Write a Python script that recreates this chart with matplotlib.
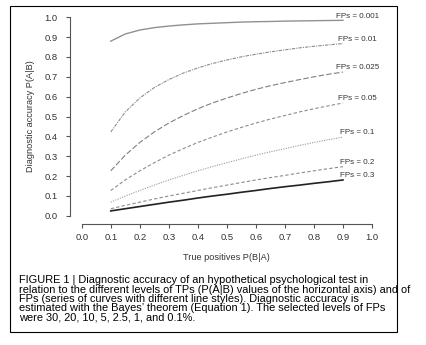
import matplotlib
matplotlib.use("Agg")
import matplotlib.pyplot as plt
from matplotlib.patches import Rectangle

plt.rcParams["font.family"] = ["Liberation Sans", "DejaVu Sans"]

# True positive rates P(B|A) on the horizontal axis
tp = [0.10, 0.15, 0.20, 0.25, 0.30, 0.35, 0.40, 0.45, 0.50,
      0.55, 0.60, 0.65, 0.70, 0.75, 0.80, 0.85, 0.90]

# Diagnostic accuracy P(A|B) for each false positive level
acc_fp0001 = [0.880, 0.916, 0.936, 0.948, 0.956, 0.962, 0.967, 0.970, 0.973,
              0.976, 0.978, 0.979, 0.981, 0.982, 0.983, 0.984, 0.985]
acc_fp001 = [0.422, 0.523, 0.593, 0.646, 0.686, 0.719, 0.745, 0.767, 0.785,
             0.801, 0.814, 0.826, 0.836, 0.846, 0.854, 0.861, 0.868]
acc_fp0025 = [0.226, 0.305, 0.369, 0.422, 0.467, 0.505, 0.539, 0.568, 0.593,
              0.616, 0.637, 0.655, 0.671, 0.686, 0.700, 0.713, 0.724]
acc_fp005 = [0.127, 0.180, 0.226, 0.267, 0.305, 0.338, 0.369, 0.396, 0.422,
             0.445, 0.467, 0.487, 0.505, 0.523, 0.539, 0.554, 0.568]
acc_fp01 = [0.068, 0.099, 0.127, 0.154, 0.180, 0.203, 0.226, 0.247, 0.267,
            0.286, 0.305, 0.322, 0.338, 0.354, 0.369, 0.383, 0.396]
acc_fp02 = [0.035, 0.052, 0.068, 0.084, 0.099, 0.113, 0.127, 0.141, 0.154,
            0.167, 0.180, 0.192, 0.203, 0.215, 0.226, 0.237, 0.247]
acc_fp03 = [0.024, 0.035, 0.046, 0.057, 0.068, 0.078, 0.089, 0.099, 0.108,
            0.118, 0.127, 0.137, 0.146, 0.154, 0.163, 0.171, 0.180]

fp_labels = ["FPs = 0.001", "FPs = 0.01", "FPs = 0.025", "FPs = 0.05",
             "FPs = 0.1", "FPs = 0.2", "FPs = 0.3"]

ticks = [0.0, 0.1, 0.2, 0.3, 0.4, 0.5, 0.6, 0.7, 0.8, 0.9, 1.0]

caption_lines = [
    "FIGURE 1 | Diagnostic accuracy of an hypothetical psychological test in",
    "relation to the different levels of TPs (P(A|B) values of the horizontal axis) and of",
    "FPs (series of curves with different line styles). Diagnostic accuracy is",
    "estimated with the Bayes\u2019 theorem (Equation 1). The selected levels of FPs",
    "were 30, 20, 10, 5, 2.5, 1, and 0.1%.",
]

series = [acc_fp0001, acc_fp001, acc_fp0025, acc_fp005, acc_fp01, acc_fp02, acc_fp03]
styles = [
    dict(color="#909090", lw=1.0, ls="-"),
    dict(color="#8c8c8c", lw=0.8, ls=(0, (3, 1, 1, 1))),
    dict(color="#808080", lw=0.8, ls=(0, (5, 2))),
    dict(color="#8c8c8c", lw=0.8, ls=(0, (3, 2))),
    dict(color="#999999", lw=0.8, ls=(0, (1, 1.2))),
    dict(color="#8c8c8c", lw=0.8, ls=(0, (3, 2))),
    dict(color="#222222", lw=1.2, ls="-"),
]

W, H = 427, 345
fig = plt.figure(figsize=(W / 100, H / 100), dpi=100)

# outer frame around plot and caption
fig.patches.append(Rectangle((10 / W, 1 - 332 / H), 387 / W, 326 / H,
                             transform=fig.transFigure, fill=False,
                             edgecolor="black", lw=0.8))

ax = fig.add_axes([70.1 / W, 1 - 223.6 / H, 313.5 / W, 214.2 / H])
ax.set_xlim(-0.04, 1.04)
ax.set_ylim(-0.04, 1.04)

for vals, st, lab in zip(series, styles, fp_labels):
    ax.plot(tp, vals, **st)
    ax.text(0.95, vals[-1] + 0.021, lab, ha="center", va="center",
            fontsize=5.8, color="#333333")

# R-style detached axes
for side in ["top", "right"]:
    ax.spines[side].set_visible(False)
for side in ["left", "bottom"]:
    ax.spines[side].set_bounds(0, 1)
    ax.spines[side].set_color("#555555")
    ax.spines[side].set_linewidth(0.8)

ax.set_xticks(ticks)
ax.set_yticks(ticks)
ax.set_xticklabels([f"{t:.1f}" for t in ticks])
ax.set_yticklabels([f"{t:.1f}" for t in ticks])
ax.tick_params(axis="x", length=3, width=0.8, color="#555555", pad=4,
               labelsize=6.8, labelcolor="#333333")
ax.tick_params(axis="y", length=3, width=0.8, color="#555555", pad=6,
               labelsize=6.8, labelcolor="#333333")

ax.set_xlabel("True positives P(B|A)", fontsize=6.6, color="#333333", labelpad=8)
ax.set_ylabel("Diagnostic accuracy P(A|B)", fontsize=6.6, color="#333333", labelpad=7)

# figure caption, one line at a time
line_y = [280.3, 289.6, 298.9, 308.2, 317.5]
for txt, y in zip(caption_lines, line_y):
    fig.text(19 / W, 1 - y / H, txt, ha="left", va="center",
             fontsize=7.9, color="black")

fig.savefig("out.png", dpi=100)
